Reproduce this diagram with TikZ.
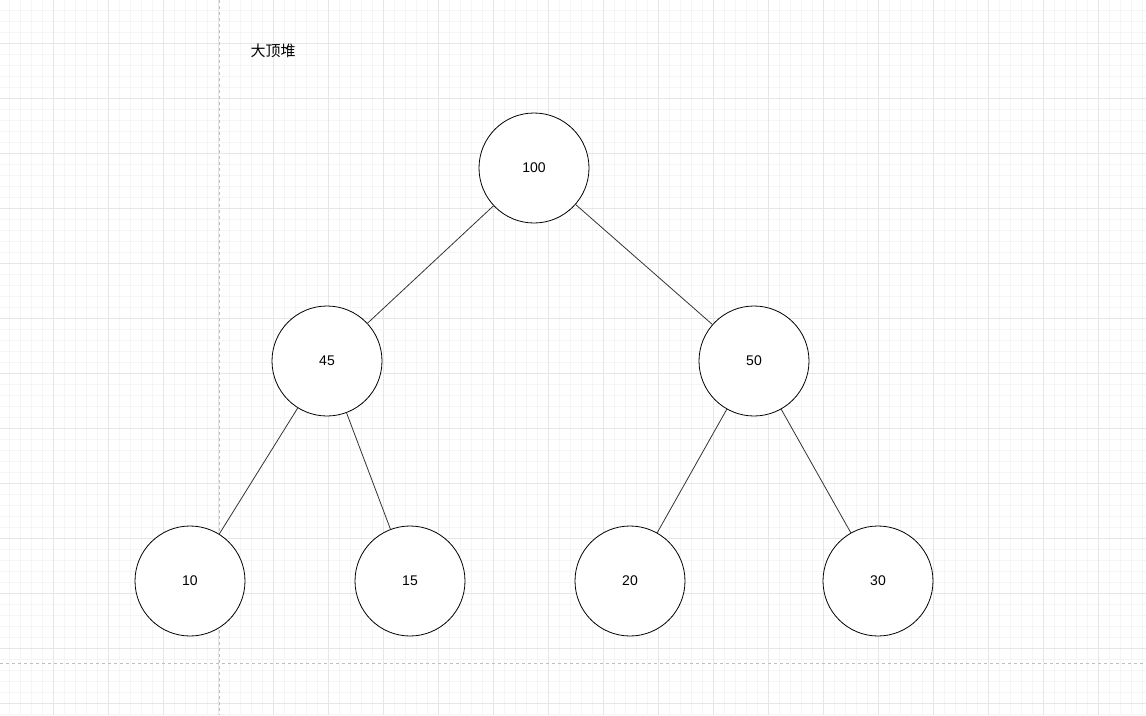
\documentclass[tikz,border=0pt]{standalone}
\usepackage{fontspec}
\setmainfont{Liberation Sans}
\newfontfamily\cjk{Noto Sans CJK SC}
\definecolor{gridminor}{HTML}{F5F5F5}
\definecolor{gridmajor}{HTML}{E6E6E6}
\definecolor{edgegray}{HTML}{333333}
\begin{document}
\begin{tikzpicture}[x=1pt,y=-1pt]
\useasboundingbox (0,0) rectangle (1146,715);
% background grid
\foreach \i in {0,...,104} {
    \draw[gridminor] ({9+11*\i},0) -- ({9+11*\i},715);
}
\foreach \i in {0,...,65} {
    \draw[gridminor] (0,{10+11*\i}) -- (1146,{10+11*\i});
}
\foreach \i in {0,...,20} {
    \draw[gridmajor] ({53+55*\i},0) -- ({53+55*\i},715);
}
\foreach \i in {0,...,12} {
    \draw[gridmajor] (0,{43+55*\i}) -- (1146,{43+55*\i});
}
\draw[gray!50,dashed] (219,0) -- (219,715);
\draw[gray!50,dashed] (0,663) -- (1146,663);

\node (title) at (273,51) {\cjk\fontsize{15}{18}\selectfont 大顶堆};

\begin{scope}[every node/.style={circle,draw=black,thick,fill=white,minimum size=110pt,inner sep=0pt,font=\fontsize{14}{17}\selectfont}]
    \node (R) at (534,168) {100};
    \node (L) at (327,361) {45};
    \node (M) at (754,361) {50};
    \node (A) at (190,581) {10};
    \node (B) at (410,581) {15};
    \node (C) at (630,581) {20};
    \node (D) at (878,581) {30};
\end{scope}

\begin{scope}[every path/.style={draw=edgegray,thick}]
    \path (R) edge (L);
    \path (R) edge (M);
    \path (L) edge (A);
    \path (L) edge (B);
    \path (M) edge (C);
    \path (M) edge (D);
\end{scope}
\end{tikzpicture}
\end{document}
